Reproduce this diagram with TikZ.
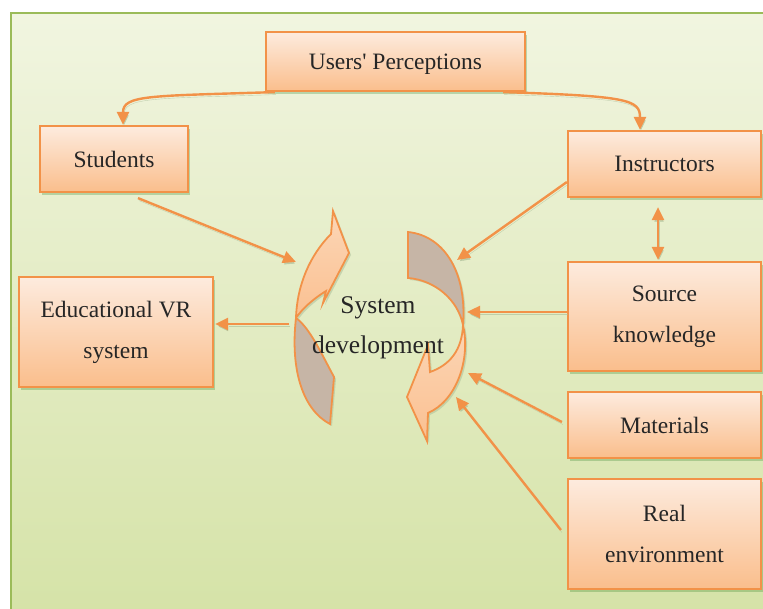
\documentclass[tikz,border=0pt]{standalone}
\usepackage{fontspec}
\setmainfont{Liberation Serif}
\usetikzlibrary{arrows.meta,shadows}

\definecolor{framegreen}{RGB}{155,187,89}
\definecolor{bgtop}{RGB}{241,245,224}
\definecolor{bgbot}{RGB}{212,226,165}
\definecolor{boxline}{RGB}{242,146,72}
\definecolor{boxtop}{RGB}{253,235,222}
\definecolor{boxbot}{RGB}{250,190,140}
\definecolor{txt}{RGB}{38,38,38}
\definecolor{loopfronttop}{RGB}{252,214,182}
\definecolor{loopfrontbot}{RGB}{250,192,145}
\definecolor{loopbackc}{RGB}{198,181,166}
\definecolor{linkshadow}{RGB}{168,188,150}

\tikzset{
  >={Triangle[length=13pt,width=12pt]},
  box/.style={draw=boxline, line width=2.2pt, top color=boxtop, bottom color=boxbot,
    text=txt, align=center, inner sep=0pt,
    font=\fontsize{23.5}{41}\selectfont,
    drop shadow={shadow xshift=2pt, shadow yshift=-3pt, fill=black!60!green, opacity=0.22}},
  link/.style={draw=boxline, line width=2.4pt, ->,
    preaction={draw=linkshadow, opacity=0.6, transform canvas={xshift=1pt,yshift=-2.5pt}}},
  loopfront/.style={top color=loopfronttop, bottom color=loopfrontbot, draw=boxline,
    line width=1.8pt, line join=miter,
    preaction={fill=linkshadow, opacity=0.5, transform canvas={xshift=2pt,yshift=-2pt}}},
  loopback/.style={fill=loopbackc, draw=boxline, line width=1.8pt, line join=miter,
    preaction={fill=linkshadow, opacity=0.5, transform canvas={xshift=2pt,yshift=-2pt}}},
}

\begin{document}
\begin{tikzpicture}[x=1pt,y=-1pt]
\useasboundingbox (0,0) rectangle (763,609);
\clip (0,0) rectangle (763,609);
\fill[white] (0,0) rectangle (763,609);

% background panel
\path[top color=bgtop, bottom color=bgbot, draw=framegreen, line width=2.5pt]
  (11,13) rectangle (790,640);

% boxes
\node[box, text depth=0pt, minimum width=259pt, minimum height=59pt] (users) at (395.5,61.5) {Users\textquotesingle\ Perceptions};
\node[box, minimum width=148pt, minimum height=66pt] (students) at (114,159) {Students};
\node[box, minimum width=193pt, minimum height=66pt] (instr) at (664.5,164) {Instructors};
\node[box, minimum width=193pt, minimum height=109pt] (source) at (664.5,316.5) {Source\\knowledge};
\node[box, minimum width=193pt, minimum height=66pt] (materials) at (664.5,425) {Materials};
\node[box, minimum width=193pt, minimum height=110pt] (realenv) at (664.5,534) {Real\\environment};
\node[box, minimum width=194pt, minimum height=110pt] (eduvr) at (116,332) {Educational VR\\system};

% development cycle: left half-loop (back then front)
\path[loopback] (296,318) .. controls (310,328) and (322,355) .. (334,377)
  -- (330,424) .. controls (303,410) and (290,370) .. (296,318) -- cycle;
\path[loopfront] (296,318) .. controls (297,285) and (310,255) .. (331,234)
  -- (333,211) -- (349,253) -- (323,303) -- (326,291)
  .. controls (313,299) and (302,309) .. (296,318) -- cycle;

% development cycle: right half-loop (back then front)
\path[loopback] (408,232) .. controls (446,236) and (467,275) .. (463,325)
  .. controls (458,300) and (435,280) .. (408,278) -- cycle;
\path[loopfront] (463,325) .. controls (471,360) and (456,401) .. (428,413)
  -- (427,441) -- (407,397) -- (428,345) -- (430,372)
  .. controls (450,365) and (462,350) .. (463,325) -- cycle;

\node[text=txt, align=center, font=\fontsize{25.5}{40}\selectfont] (sysdev) at (378,328) {System\\development};

% connector end points on the cycle
\coordinate (lt) at (296,262);
\coordinate (lc) at (289,324);
\coordinate (rt1) at (457,260);
\coordinate (rt2) at (467,312);
\coordinate (rt3) at (468,373);
\coordinate (rt4) at (456,397);

% connectors
\draw[link] ([xshift=10pt]users.south west) .. controls +(-126,4) and +(0,-30) .. ([xshift=9pt]students.north);
\draw[link] ([xshift=-23pt]users.south east) .. controls +(126,4) and +(0,-30) .. ([xshift=-24.5pt]instr.north);
\draw[link] ([xshift=24pt,yshift=-5pt]students.south) -- (lt);
\draw[link] ([yshift=-18pt]instr.west) -- (rt1);
\draw[link, <->] ([xshift=-6.5pt,yshift=-9pt]instr.south) -- ([xshift=-6.5pt,yshift=1pt]source.north);
\draw[link] ([yshift=4.5pt]source.west) -- (rt2);
\draw[link] ([xshift=-5pt,yshift=3pt]materials.west) -- (rt3);
\draw[link] ([xshift=-6pt,yshift=4pt]realenv.west) -- (rt4);
\draw[link] (lc) -- ([yshift=8pt,xshift=1pt]eduvr.east);
\end{tikzpicture}
\end{document}
